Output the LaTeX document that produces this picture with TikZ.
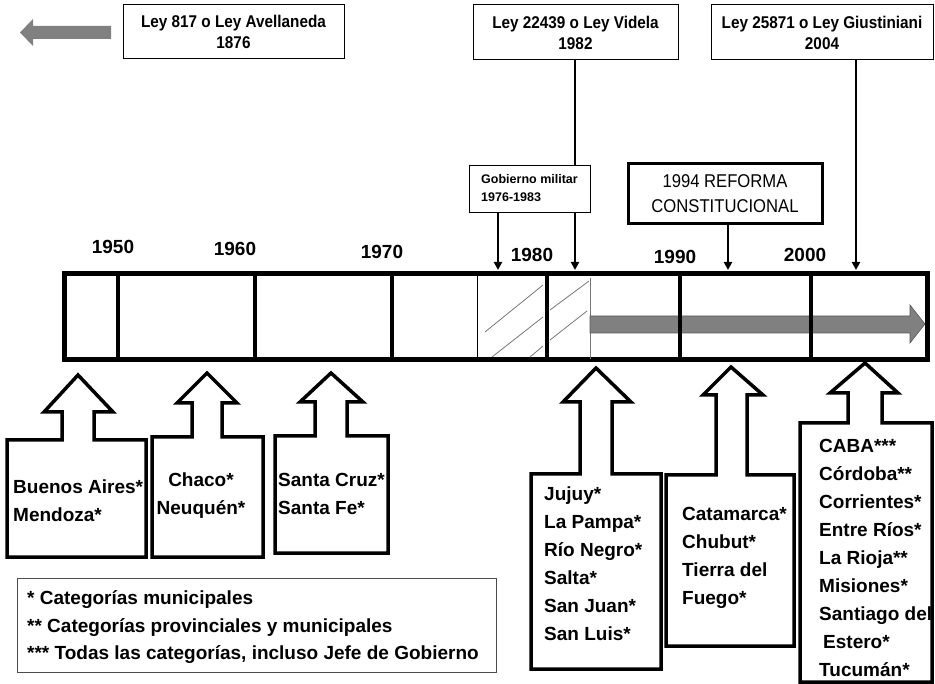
\documentclass[tikz,border=0pt]{standalone}
\usepackage{fontspec}
\setmainfont{Liberation Sans}
\newfontfamily\narrowfont{Liberation Sans}[FakeStretch=0.9]
\usetikzlibrary{arrows.meta}
\definecolor{arrowgray}{HTML}{808080}
\definecolor{hatchgray}{HTML}{777777}
\begin{document}
\begin{tikzpicture}[x=1pt,y=-1pt,
  lawbox/.style={draw, line width=1pt, fill=white, align=center, inner sep=0pt,
    font=\narrowfont\bfseries\fontsize{17}{21}\selectfont},
  conn/.style={line width=2.5pt, -{Triangle[width=8pt,length=8pt]}},
  year/.style={inner sep=0pt, font=\bfseries\fontsize{19}{22}\selectfont},
  callout/.style={draw, line width=3.5pt, fill=white, line join=miter},
  ctext/.style={anchor=north west, inner sep=0pt, align=left,
    font=\bfseries\fontsize{19}{28}\selectfont},
  divider/.style={line width=4.5pt},
  hatch/.style={line width=0.8pt, hatchgray}
]
\useasboundingbox (0,0) rectangle (935,684);

% top-left gray arrow
\fill[arrowgray] (111,26) -- (33,26) -- (33,19) -- (20,32.5) -- (33,46) -- (33,39) -- (111,39) -- cycle;

% law boxes
\node[lawbox, minimum width=221pt, minimum height=54pt] (ley1) at (233.5,32) {Ley 817 o Ley Avellaneda\\1876};
\node[lawbox, minimum width=205pt, minimum height=55pt] (ley2) at (575.5,32.5) {Ley 22439 o Ley Videla\\1982};
\node[lawbox, minimum width=222pt, minimum height=55pt] (ley3) at (822,32.5) {Ley 25871 o Ley Giustiniani\\2004};

% timeline
\node[draw, line width=5pt, minimum width=863pt, minimum height=86pt, inner sep=0pt] (tl) at (496,316.5) {};

\coordinate (t1) at (575,270);
\coordinate (t2) at (856,270);
\coordinate (t3) at (498,270);
\coordinate (t4) at (728,270);

\draw[conn] (ley2.south -| t1) -- (t1);
\draw[conn] (ley3.south -| t2) -- (t2);

\node[draw, line width=0.8pt, fill=white, minimum width=121pt, minimum height=47pt, align=left,
  inner sep=0pt, font=\bfseries\fontsize{12.5}{18}\selectfont] (gob) at (529.5,188.5) {Gobierno militar\\1976-1983};
\draw[conn] (gob.south -| t3) -- (t3);

\node[draw, line width=3pt, fill=white, minimum width=194pt, minimum height=60pt, align=center,
  inner sep=0pt, font=\narrowfont\fontsize{18.5}{25}\selectfont] (ref) at (725,194) {1994 REFORMA\\CONSTITUCIONAL};
\draw[conn] (ref.south -| t4) -- (t4);

% years
\node[year] (y1950) at (113,247) {1950};
\node[year] (y1960) at (235,249) {1960};
\node[year] (y1970) at (382,252) {1970};
\node[year] (y1980) at (532,255) {1980};
\node[year] (y1990) at (675,257) {1990};
\node[year] (y2000) at (805,255) {2000};

% hatch
\draw[line width=0.9pt] (477,273.5) -- (477,359.5);
\draw[line width=0.8pt, hatchgray] (590,278) -- (590,359.5);
\draw[hatch] (485,332) -- (543,285);
\draw[hatch] (492,357) -- (543,317);
\draw[hatch] (530,357) -- (543,346);
\draw[hatch] (550,310) -- (589,281);
\draw[hatch] (550,340) -- (587,311);

% gray arrow inside
\filldraw[fill=arrowgray, draw=black!65, line width=0.6pt] (590,316) -- (910,316) -- (910,305) -- (925,324) -- (910,343) -- (910,333) -- (590,333) -- cycle;

% dividers
\foreach \x in {118,255,392,547,680,811}
  \draw[divider] (\x,273.5) -- (\x,359.5);

% callouts
\draw[callout] (7,557) -- (7,440) -- (62,440) -- (62,412) -- (44,412) -- (78,375) -- (113,412) -- (94,412) -- (94,440) -- (146,440) -- (146,557) -- cycle;
\draw[callout] (152,557) -- (152,437) -- (192,437) -- (192,403) -- (177,403) -- (207,373) -- (237,403) -- (222,403) -- (222,437) -- (263,437) -- (263,557) -- cycle;
\draw[callout] (275,553) -- (275,436) -- (315,436) -- (315,402) -- (300,402) -- (331,373) -- (363,402) -- (347,402) -- (347,436) -- (388,436) -- (388,553) -- cycle;
\draw[callout] (531,669) -- (531,474) -- (580,474) -- (580,402) -- (563,402) -- (596,368) -- (631,402) -- (612,402) -- (612,474) -- (661,474) -- (661,669) -- cycle;
\draw[callout] (666,646) -- (666,475) -- (716,475) -- (716,395) -- (703,395) -- (731,367) -- (763,395) -- (747,395) -- (747,475) -- (794,475) -- (794,646) -- cycle;
\draw[callout] (800,682) -- (800,423) -- (848,423) -- (848,393) -- (830,393) -- (865,363) -- (898,393) -- (882,393) -- (882,423) -- (932,423) -- (932,682) -- cycle;

\node[ctext] (c1) at (13,474.2) {\strut Buenos Aires*\\Mendoza*\strut};
\node[ctext, anchor=north, align=center] (c2) at (201,467.2) {\strut Chaco*\\Neuquén*\strut};
\node[ctext] (c3) at (278,467.2) {\strut Santa Cruz*\\Santa Fe*\strut};
\node[ctext] (c4) at (544,480.2) {\strut Jujuy*\\La Pampa*\\Río Negro*\\Salta*\\San Juan*\\San Luis*\strut};
\node[ctext] (c5) at (682,500.2) {\strut Catamarca*\\Chubut*\\Tierra del\\Fuego*\strut};
\node[ctext] (c6) at (819,432.2) {\strut CABA***\\Córdoba**\\Corrientes*\\Entre Ríos*\\La Rioja**\\Misiones*\\Santiago del\\\hspace*{4pt}Estero*\\Tucumán*\strut};

% legend
\node[draw=black!70, line width=1pt, minimum width=479pt, minimum height=94pt, inner sep=0pt] (leg) at (256.5,625) {};
\node[ctext, font=\bfseries\fontsize{19}{27.5}\selectfont] (legtext) at (27,585.2) {\strut * Categorías municipales\\** Categorías provinciales y municipales\\*** Todas las categorías, incluso Jefe de Gobierno\strut};
\end{tikzpicture}
\end{document}
